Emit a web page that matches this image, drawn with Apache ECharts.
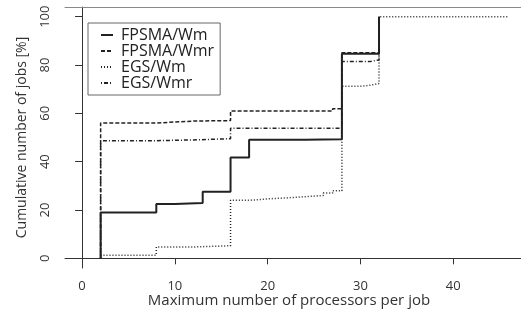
<!DOCTYPE html>
<html>
<head>
<meta charset="utf-8">
<script src="https://cdn.jsdelivr.net/npm/echarts@6/dist/echarts.min.js"></script>
<style>
  html, body { margin: 0; padding: 0; background: #fff; }
  #chart { width: 521px; height: 321px; }
</style>
</head>
<body>
<div id="chart"></div>
<script>
// step curves: [max processors, cumulative % of jobs]
const fpsmaWm = [[2, 0], [2, 19.0], [8, 22.5], [10, 22.9], [13, 27.6], [16, 41.7], [18, 49.1], [24, 49.3], [28, 84.7], [32, 100]];
const fpsmaWmr = [[2, 0], [2, 56.0], [8, 56.8], [12, 57.0], [16, 61.0], [27, 61.9], [28, 85.1], [32, 100]];
const egsWm = [[2, 0], [2, 1.3], [8, 4.7], [12, 5.2], [16, 24.0], [18, 24.6], [20, 25.0], [22, 25.5], [24, 26.0], [26, 27.0], [27, 28.0], [28, 71.2], [30, 71.6], [31, 72.3], [32, 100], [46, 100]];
const egsWmr = [[2, 0], [2, 48.7], [8, 49.0], [12, 49.5], [16, 53.8], [28, 81.4], [31, 82.1], [32, 100]];

const seriesNames = ['FPSMA/Wm', 'FPSMA/Wmr', 'EGS/Wm', 'EGS/Wmr'];
const xTicks = [0, 10, 20, 30, 40];
const yTicks = [0, 20, 40, 60, 80, 100];

const ink = '#222';
const font = 'Open Sans';

function stepSeries(name, data, dash, width) {
  return {
    name: name,
    type: 'line',
    step: 'end',
    data: data,
    symbol: 'none',
    lineStyle: { color: ink, width: width, type: dash },
    itemStyle: { color: ink }
  };
}

const chart = echarts.init(document.getElementById('chart'));
chart.setOption({
  animation: false,
  textStyle: { fontFamily: font },
  grid: {
    left: 65, top: 7, width: 461, height: 261,
    outerBoundsMode: 'none',
    containLabel: false
  },
  legend: {
    data: seriesNames,
    orient: 'vertical',
    left: 88, top: 23,
    itemWidth: 12, itemHeight: 14, itemGap: 0,
    padding: [4, 6, 4, 12],
    borderColor: '#666', borderWidth: 1,
    itemStyle: { color: 'transparent', borderWidth: 0, opacity: 0 },
    textStyle: { fontSize: 16, lineHeight: 14, color: ink, padding: [0, 0, 0, 3] }
  },
  xAxis: [{
    type: 'value',
    min: -1.84, max: 47.84,
    splitLine: { show: false },
    axisLine: { show: true, lineStyle: { color: '#333' } },
    axisTick: { show: true, length: 6, customValues: xTicks, lineStyle: { color: '#333' } },
    axisLabel: { customValues: xTicks, fontSize: 13, color: '#333', margin: 12 },
    name: 'Maximum number of processors per job',
    nameLocation: 'middle',
    nameGap: 25,
    nameMoveOverlap: false,
    nameTextStyle: { fontSize: 15, color: '#333', padding: [0, 13, 0, 0] }
  }, {
    // top edge of the plot box
    type: 'value',
    position: 'top',
    min: -1.84, max: 47.84,
    splitLine: { show: false },
    axisLine: { show: true, lineStyle: { color: '#888' } },
    axisTick: { show: false },
    axisLabel: { show: false }
  }],
  yAxis: {
    type: 'value',
    min: -4, max: 104,
    splitLine: { show: false },
    axisLine: { show: true, lineStyle: { color: '#333' } },
    axisTick: { show: true, length: 7, customValues: yTicks, lineStyle: { color: '#333' } },
    axisLabel: { customValues: yTicks, rotate: 90, fontSize: 13, color: '#333', margin: 13 },
    name: 'Cumulative number of jobs [%]',
    nameLocation: 'middle',
    nameGap: 36,
    nameMoveOverlap: false,
    nameTextStyle: { fontSize: 14, color: '#333' }
  },
  series: [
    stepSeries(seriesNames[0], fpsmaWm, 'solid', 2),
    stepSeries(seriesNames[1], fpsmaWmr, [4, 2], 1.5),
    stepSeries(seriesNames[2], egsWm, [1, 2], 1.5),
    stepSeries(seriesNames[3], egsWmr, [1, 2, 4, 2], 1.5)
  ]
});
</script>
</body>
</html>
